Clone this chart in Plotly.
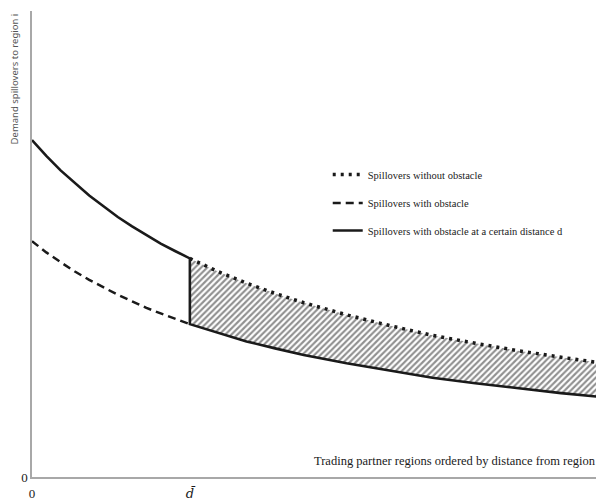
import plotly.graph_objects as go

# ---- data ----
d_bar = 27.6
x_near = [0, 2.5, 5, 7.5, 10, 12.5, 15, 17.5, 20, 22.5, 25, 27.6]
y_free_near = [72.3, 68.9, 65.8, 63.0, 60.4, 58.1, 55.8, 53.8, 51.9, 50.1, 48.5, 46.9]
y_obst_near = [50.6, 48.2, 46.1, 44.1, 42.3, 40.7, 39.1, 37.7, 36.3, 35.1, 34.0, 32.8]

x_far = [27.6, 32.5, 37.5, 42.5, 47.5, 55, 62.5, 70, 77.5, 85, 92.5, 100]
y_free_far = [46.9, 44.1, 41.6, 39.4, 37.4, 34.8, 32.5, 30.4, 28.7, 27.1, 25.7, 24.4]
y_obst_far = [32.8, 30.9, 29.1, 27.6, 26.2, 24.4, 22.8, 21.3, 20.1, 19.0, 18.0, 17.1]

x_tick_vals = [0, d_bar]
x_tick_text = ["0", "<span style='font-family:DejaVu Serif'><i>d\u0304</i></span>"]

names = ["Spillovers without obstacle",
         "Spillovers with obstacle",
         "Spillovers with obstacle at a certain distance d"]

serif = "Liberation Serif, Times New Roman, serif"
ink = "#1a1a1a"

fig = go.Figure()

# hatched area: base (lower far curve) then upper far curve filled to it
fig.add_trace(go.Scatter(x=x_far, y=y_obst_far, mode="lines",
                         line=dict(width=0, color="rgba(0,0,0,0)"),
                         showlegend=False, hoverinfo="skip"))
fig.add_trace(go.Scatter(x=x_far, y=y_free_far, mode="lines",
                         line=dict(width=0, color="rgba(0,0,0,0)"),
                         fill="tonexty", fillcolor="white",
                         fillpattern=dict(shape="/", size=4.3, solidity=0.5,
                                          fgcolor="#222222", bgcolor="white"),
                         showlegend=False, hoverinfo="skip"))

# dotted: spillovers without obstacle
fig.add_trace(go.Scatter(x=x_far, y=y_free_far, mode="lines", name=names[0],
                         line=dict(color=ink, width=3.5, dash="3px,5px"),
                         legend="legend"))
# dashed: spillovers with obstacle
fig.add_trace(go.Scatter(x=x_near, y=y_obst_near, mode="lines", name=names[1],
                         line=dict(color=ink, width=2.5, dash="8px,5px"),
                         legend="legend2"))
# solid: obstacle at a certain distance (vertical jump via shared x at d_bar)
fig.add_trace(go.Scatter(x=x_near + x_far, y=y_free_near + y_obst_far,
                         mode="lines", name=names[2],
                         line=dict(color=ink, width=2.6),
                         legend="legend3"))

leg_common = dict(xanchor="left", yanchor="middle", bgcolor="rgba(0,0,0,0)",
                  font=dict(family=serif, size=10.5, color=ink),
                  itemwidth=30, tracegroupgap=0)

# the page body has an 8px margin, so the figure is sized/margined to
# place the plot area at x 32..604, y 11..484 in the window
fig.update_layout(
    width=596, height=493,
    margin=dict(l=24, r=0, t=3, b=17),
    plot_bgcolor="white", paper_bgcolor="white",
    legend=dict(x=0.517, y=0.649, **leg_common),
    legend2=dict(x=0.517, y=0.588, **leg_common),
    legend3=dict(x=0.517, y=0.529, **leg_common),
    xaxis=dict(range=[0, 100], showgrid=False, zeroline=False,
               showline=True, linecolor="#a8a8a8", linewidth=1.5,
               tickmode="array", tickvals=x_tick_vals, ticktext=x_tick_text,
               ticks="", tickfont=dict(family=serif, size=13, color=ink),
               ticklabelstandoff=4),
    yaxis=dict(range=[0, 100], showgrid=False, zeroline=False,
               showline=True, linecolor="#a8a8a8", linewidth=1.5,
               tickmode="array", tickvals=[0], ticktext=["0"],
               ticks="", tickfont=dict(family=serif, size=13, color=ink)),
    annotations=[
        dict(text="Trading partner regions ordered by distance from region i",
             xref="paper", x=1.0, xanchor="right",
             yref="y", y=3.4, yanchor="middle", showarrow=False,
             font=dict(family=serif, size=12.5, color=ink)),
        dict(text="Demand spillovers to region i",
             xref="paper", x=-0.03, xanchor="center",
             yref="paper", y=0.855, yanchor="middle", showarrow=False,
             textangle=-90,
             font=dict(family="Noto Sans, DejaVu Sans, sans-serif", size=9.5, color="#555555")),
    ],
)

fig.write_html("out.html")
